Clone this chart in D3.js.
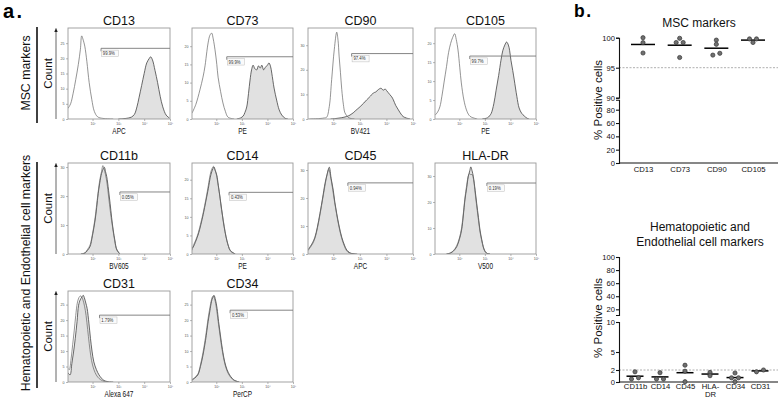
<!DOCTYPE html>
<html><head><meta charset="utf-8">
<script src="https://cdn.jsdelivr.net/npm/d3@7"></script>
<style>
body{margin:0;background:#fff;}
text{font-family:"Liberation Sans",Arial,sans-serif;}
</style></head>
<body>
<script>
// ---------------- DATA ----------------
// Panel a: flow cytometry histograms, points are [log10 fluorescence, count]
const histMarkers = ["CD13","CD73","CD90","CD105","CD11b","CD14","CD45","HLA-DR","CD31","CD34"];
const histChannels = ["APC","PE","BV421","PE","BV605","PE","APC","V500","Alexa 647","PerCP"];
const gateLabels = ["99.9%","99.9%","97.4%","99.7%","0.05%","0.43%","0.94%","0.19%","1.79%","0.53%"];
const gateStart = [2.33, 2.41, 2.69, 2.41, 3.06, 2.5, 2.55, 3.08, 2.27, 2.54];
const gateLevel = [23.3, 17.1, 26.6, 16.6, 21.4, 16.6, 25.4, 27.3, 21.6, 23.2];
const countMax = [30, 25, 37, 24, 31.4, 24.5, 32.5, 35, 29.4, 29.4];
const countTicks = [[0,5,10,15,20,25],[0,5,10,15,20],[0,10,20,30],[0,5,10,15,20],[0,10,20,30],[0,5,10,15,20],[0,10,20,30],[0,10,20,30],[0,5,10,15,20,25],[0,5,10,15,20,25]];
const fluorTicks = [2,3,4,5];
const fluorTickLabels = ["10²","10³","10⁴","10⁵"];

const CD13_iso = [[1.05,3.5],[1.15,5],[1.25,8.5],[1.35,13],[1.45,18],[1.53,23],[1.58,27.4],[1.64,26],[1.7,24],[1.78,19],[1.87,12],[1.97,6.5],[2.07,2.5],[2.2,0.7],[2.4,0.2],[2.8,0]];
const CD13_stain = [[3.0,0],[3.3,0.2],[3.5,0.6],[3.62,1.5],[3.72,4],[3.8,7],[3.9,11],[4.0,15],[4.1,18.5],[4.2,20],[4.25,20.5],[4.32,19.5],[4.42,16],[4.52,12],[4.62,7.5],[4.72,4],[4.85,1.3],[4.98,0.3]];
const CD73_iso = [[1.05,1.6],[1.2,4],[1.36,8],[1.48,11.5],[1.56,14.6],[1.63,18.5],[1.68,20.9],[1.75,23],[1.82,23.6],[1.88,22],[1.95,19],[2.02,15],[2.07,11.5],[2.17,7.5],[2.26,4.4],[2.36,2],[2.46,0.5],[2.7,0]];
const CD73_stain = [[2.8,0],[2.95,0.3],[3.05,0.8],[3.12,1.8],[3.19,3.3],[3.26,7],[3.32,10.7],[3.38,13.5],[3.44,14.8],[3.51,13.8],[3.58,13.5],[3.65,14.6],[3.72,14],[3.78,14.8],[3.85,13.5],[3.92,14.2],[4.0,14.8],[4.06,15.4],[4.12,14.5],[4.17,12.6],[4.26,8.5],[4.36,5.2],[4.46,2.5],[4.56,1.1],[4.69,0.2],[4.8,0]];
const CD90_iso = [[1.1,0],[1.5,0.2],[1.65,0.4],[1.75,0.7],[1.85,5],[1.94,16],[2.04,28.4],[2.13,35.3],[2.18,32],[2.22,25.6],[2.27,19],[2.32,12],[2.38,6],[2.44,2.5],[2.55,0.8],[2.63,0.3],[2.8,0]];
const CD90_stain = [[1.9,0],[2.1,0.2],[2.3,0.5],[2.5,1],[2.63,1.6],[2.75,2.5],[2.85,3.5],[3.01,5],[3.15,6.5],[3.26,7.8],[3.4,9.3],[3.51,10.6],[3.6,11],[3.7,12],[3.8,12.5],[3.88,11.7],[3.95,12.2],[4.01,11.5],[4.07,10.7],[4.13,9.9],[4.2,9],[4.26,7.8],[4.35,5.5],[4.45,3.7],[4.55,2],[4.63,1],[4.75,0.4],[4.89,0]];
const CD105_iso = [[1.05,1],[1.15,1.8],[1.24,3.2],[1.32,6],[1.4,9.5],[1.5,13.8],[1.58,17.5],[1.66,19.9],[1.74,21.5],[1.82,22.5],[1.88,21],[1.95,18.2],[2.02,13.5],[2.08,9.5],[2.18,5],[2.28,2.4],[2.38,1],[2.47,0.5],[2.7,0]];
const CD105_stain = [[2.9,0],[3.1,0.3],[3.18,0.8],[3.25,1.5],[3.35,4],[3.44,7.6],[3.54,11.5],[3.63,15.5],[3.7,18],[3.78,19.5],[3.85,20.3],[3.92,19.5],[3.97,18],[4.02,15.5],[4.09,12.8],[4.15,10.3],[4.25,6],[4.34,2.9],[4.44,1.5],[4.54,0.8],[4.65,0.2],[4.73,0]];
const CD11b_stain = [[1.55,0],[1.71,0.3],[1.8,1.2],[1.9,2.5],[2.0,6.5],[2.1,11.7],[2.16,16],[2.22,20.9],[2.28,24.5],[2.35,27.8],[2.42,29.5],[2.46,29.9],[2.5,28.5],[2.55,26.7],[2.62,22],[2.68,17.5],[2.74,12.5],[2.8,8.3],[2.87,4.5],[2.94,1.4],[3.06,0]];
const CD11b_iso = [[1.55,0],[1.7,0.4],[1.8,1.5],[1.9,3],[2.0,7],[2.1,12.5],[2.16,17],[2.22,21.5],[2.28,25.5],[2.35,28.5],[2.4,30.5],[2.44,29.5],[2.5,27.5],[2.56,24.5],[2.62,20],[2.7,14],[2.78,9],[2.85,5],[2.92,2],[3.06,0]];
const CD14_stain = [[1.05,1.5],[1.1,1.9],[1.2,3.5],[1.3,5.4],[1.4,8],[1.49,10.7],[1.6,14.5],[1.69,17.7],[1.76,20.5],[1.82,22.1],[1.87,23],[1.91,23.4],[1.96,22.5],[2.02,21.2],[2.08,18.5],[2.15,15],[2.21,12],[2.27,8.9],[2.34,6],[2.41,3.7],[2.48,2],[2.54,1],[2.73,0]];
const CD14_iso = [[1.05,1],[1.1,2.2],[1.2,3.8],[1.3,5.8],[1.4,8.5],[1.49,11.2],[1.6,15],[1.69,18.5],[1.76,21.3],[1.82,22.8],[1.89,23.6],[1.94,22.8],[2.0,21.5],[2.06,19],[2.14,15.5],[2.2,12.2],[2.27,9.2],[2.34,6.2],[2.42,3.5],[2.5,1.6],[2.58,0.6],[2.75,0]];
const CD45_stain = [[1.05,1.5],[1.13,2.6],[1.22,4],[1.31,6],[1.4,9.5],[1.5,14.5],[1.6,20],[1.69,25.2],[1.77,28.5],[1.85,31],[1.92,27],[2.0,22.8],[2.06,18.5],[2.13,14.5],[2.22,10],[2.32,6],[2.42,3.2],[2.51,1.4],[2.6,0.6],[2.69,0.2],[2.9,0]];
const CD45_iso = [[1.05,1.2],[1.13,2.3],[1.22,3.6],[1.31,5.6],[1.4,9],[1.5,14],[1.6,19.5],[1.69,24.5],[1.76,28],[1.83,30.2],[1.9,27.5],[1.98,23],[2.05,18.5],[2.13,14],[2.22,9.5],[2.32,5.5],[2.42,2.8],[2.5,1.2],[2.6,0.4],[2.8,0]];
const HLADR_stain = [[1.5,0],[1.64,0.3],[1.78,1.2],[1.9,2.8],[2.0,5.5],[2.09,9.2],[2.16,15],[2.22,20.8],[2.29,25.5],[2.35,29.7],[2.41,32],[2.45,33.5],[2.5,32],[2.55,29.7],[2.62,24.5],[2.68,19.5],[2.75,14],[2.81,9.2],[2.88,5.5],[2.94,2.8],[3.0,1.2],[3.07,0.3],[3.2,0]];
const HLADR_iso = [[1.5,0],[1.65,0.4],[1.78,1.4],[1.9,3.2],[2.0,6],[2.09,10],[2.16,15.8],[2.22,21.5],[2.29,26.5],[2.35,30],[2.4,31],[2.45,30.5],[2.5,30.6],[2.56,28.5],[2.62,23.5],[2.68,18.5],[2.75,13],[2.81,8.5],[2.88,5],[2.94,2.5],[3.0,1],[3.1,0.2],[3.2,0]];
const CD31_stain = [[1.05,3],[1.13,2.3],[1.2,6],[1.27,10],[1.33,14],[1.4,19.5],[1.46,24.8],[1.52,26.5],[1.59,27.5],[1.64,28],[1.68,27.3],[1.74,25.5],[1.79,23.8],[1.86,19],[1.92,14.1],[1.98,10],[2.05,6.5],[2.15,4],[2.25,2.3],[2.35,1.2],[2.44,0.5],[2.6,0.1],[2.8,0]];
const CD31_iso = [[1.05,4.4],[1.1,4],[1.17,7.5],[1.23,12],[1.29,16.5],[1.35,21.5],[1.41,25.5],[1.47,27.2],[1.53,27.8],[1.58,27.5],[1.63,26.5],[1.69,24.5],[1.75,21.5],[1.81,17],[1.87,12.5],[1.93,8.5],[2.0,5.5],[2.1,3],[2.2,1.6],[2.32,0.7],[2.45,0.2],[2.6,0]];
const CD34_stain = [[1.05,0.6],[1.15,1.2],[1.28,2.3],[1.38,5],[1.48,8.7],[1.58,13.5],[1.68,19.5],[1.75,23],[1.81,25.9],[1.86,27.3],[1.91,28],[1.97,26.5],[2.03,23.8],[2.09,19.5],[2.16,15.2],[2.24,10.5],[2.33,6.5],[2.42,4],[2.52,2.3],[2.62,1.2],[2.72,0.5],[2.9,0]];
const CD34_iso = [[1.05,0.8],[1.15,1.4],[1.28,2.6],[1.38,5.5],[1.48,9.5],[1.58,14.5],[1.68,20.5],[1.75,24],[1.81,26.5],[1.86,27.6],[1.9,27.5],[1.96,26],[2.02,23],[2.09,18.5],[2.16,14.2],[2.24,9.8],[2.33,6],[2.42,3.6],[2.52,2],[2.62,1],[2.72,0.4],[2.9,0]];
const stainedCurves = [CD13_stain,CD73_stain,CD90_stain,CD105_stain,CD11b_stain,CD14_stain,CD45_stain,HLADR_stain,CD31_stain,CD34_stain];
const isotypeCurves = [CD13_iso,CD73_iso,CD90_iso,CD105_iso,CD11b_iso,CD14_iso,CD45_iso,HLADR_iso,CD31_iso,CD34_iso];

// Panel b: % positive cells per donor
const mscCats = ["CD13","CD73","CD90","CD105"];
const mscValues = [[100,99.17,97.45],[99.9,99.2,99.2,96.7],[99.6,98.9,97.1,97.4],[99.8,99.2,99.8]];
const hemCats = ["CD11b","CD14","CD45","HLA-DR","CD34","CD31"];
const hemValues = [[1.7,0.5,0.7],[1.55,0.5,0.5],[2.8,1.8,0.05],[1.6,1.05],[1.5,0.7,0.7,0.05],[1.7,2.0]];
const mscThreshold = 95, hemThreshold = 2;
const mscTicksHigh = [90,95,100], mscTicksLow = [0,20,40,60,80];
const hemTicksHigh = [20,40,60,80,100], hemTicksLow = [0,2,5,10];

// ---------------- DRAW ----------------
const W = 778, H = 401;
const svg = d3.select("body").append("svg").attr("width", W).attr("height", H);
svg.append("rect").attr("width", W).attr("height", H).attr("fill", "#fff");

const defs = svg.append("defs");
defs.append("marker").attr("id","arr").attr("viewBox","0 0 10 10").attr("refX",5).attr("refY",5)
  .attr("markerWidth",5).attr("markerHeight",6).attr("orient","auto")
  .append("path").attr("d","M0,1 L10,5 L0,9 Z").attr("fill","#222");

svg.append("text").attr("x",3).attr("y",18).attr("font-size",20).attr("font-weight","bold").attr("letter-spacing",2.5).text("a.");
svg.append("text").attr("x",574).attr("y",17).attr("font-size",17.5).attr("font-weight","bold").attr("letter-spacing",1.5).text("b.");

function groupLabel(text, cy, y0, y1){
  svg.append("text").attr("transform",`translate(30,${cy}) rotate(-90)`).attr("text-anchor","middle")
    .attr("font-size",12.3).attr("fill","#111").text(text);
  svg.append("line").attr("x1",37).attr("x2",37).attr("y1",y0).attr("y2",y1).attr("stroke","#111").attr("stroke-width",1.6);
}
groupLabel("MSC markers", 73, 27, 123);
groupLabel("Hematopoietic and Endothelial cell markers", 273, 162, 388);

const colX = [68,192,308,435], colW = [102,101,105,101];
const rowY = [28,163,291], rowH = 91;

rowY.forEach(t => {
  svg.append("line").attr("x1",56).attr("x2",56).attr("y1",t+rowH).attr("y2",t+2)
    .attr("stroke","#555").attr("stroke-width",0.9).attr("marker-end","url(#arr)");
  svg.append("text").attr("transform",`translate(52,${t+rowH/2}) rotate(-90)`).attr("text-anchor","middle")
    .attr("font-size",11.5).attr("fill","#111").text("Count");
});

histMarkers.forEach((m, i) => {
  const row = i < 4 ? 0 : (i < 8 ? 1 : 2);
  const col = i < 4 ? i : (i < 8 ? i-4 : i-8);
  const x0 = colX[col], w = colW[col], y0 = rowY[row];
  const x = d3.scaleLinear().domain([1.05,5]).range([x0, x0+w]);
  const y = d3.scaleLinear().domain([0, countMax[i]]).range([y0+rowH, y0]);
  const g = svg.append("g");
  const clipId = "clip"+i;
  defs.append("clipPath").attr("id",clipId).append("rect").attr("x",x0).attr("y",y0).attr("width",w).attr("height",rowH);

  const area = d3.area().x(d=>x(d[0])).y0(y(0)).y1(d=>y(Math.max(0,d[1]))).curve(d3.curveCatmullRom.alpha(0.5));
  const line = d3.line().x(d=>x(d[0])).y(d=>y(Math.max(0,d[1]))).curve(d3.curveCatmullRom.alpha(0.5));
  const cg = g.append("g").attr("clip-path",`url(#${clipId})`);
  cg.append("path").datum(stainedCurves[i]).attr("d",area).attr("fill","#e1e1e1");
  cg.append("path").datum(stainedCurves[i]).attr("d",line).attr("fill","none").attr("stroke","#444").attr("stroke-width",0.8);
  cg.append("path").datum(isotypeCurves[i]).attr("d",line).attr("fill","none").attr("stroke","#666").attr("stroke-width",0.7);

  g.append("rect").attr("x",x0).attr("y",y0).attr("width",w).attr("height",rowH)
    .attr("fill","none").attr("stroke","#9a9a9a").attr("stroke-width",0.9);

  const ya = g.append("g").attr("transform",`translate(${x0},0)`)
    .call(d3.axisLeft(y).tickValues(countTicks[i]).tickSize(2).tickPadding(1.5).tickSizeOuter(0));
  const xa = g.append("g").attr("transform",`translate(0,${y0+rowH})`)
    .call(d3.axisBottom(x).tickValues(fluorTicks).tickSize(2).tickPadding(1.5).tickSizeOuter(0)
      .tickFormat((d,k)=>fluorTickLabels[k]));
  [ya,xa].forEach(a => {
    a.select(".domain").remove();
    a.selectAll("line").attr("stroke","#888").attr("stroke-width",0.6);
    a.selectAll("text").attr("font-size",3.6).attr("fill","#555");
  });

  const gx = x(gateStart[i]), gy = y(gateLevel[i]);
  g.append("path").attr("d",`M${gx},${gy+3}V${gy}H${x0+w}`).attr("fill","none").attr("stroke","#777").attr("stroke-width",0.9);
  g.append("rect").attr("x",gx+0.5).attr("y",gy+1.8).attr("width",17).attr("height",6.5)
    .attr("fill","#fafafa").attr("stroke","#bbb").attr("stroke-width",0.5);
  g.append("text").attr("transform",`translate(${gx+1.8},${gy+6.8}) scale(0.85,1)`)
    .attr("font-size",5).attr("fill","#333").text(gateLabels[i]);

  g.append("text").attr("x",x0+w/2).attr("y",y0-3).attr("text-anchor","middle").attr("font-size",12.5).attr("fill","#111").text(m);
  g.append("text").attr("transform",`translate(${x0+w/2},${y0+rowH+14.5}) scale(0.78,1)`).attr("text-anchor","middle")
    .attr("font-size",8.3).attr("fill","#111").text(histChannels[i]);
});

// ---------------- Panel b ----------------
function dotLayout(vals, yScale, thresh, step){
  const idx = vals.map((v,k)=>k).sort((a,b)=>vals[a]-vals[b]);
  const out = new Array(vals.length).fill(0);
  let clusters = [], cur = [idx[0]];
  for (let k=1;k<idx.length;k++){
    if (Math.abs(yScale(vals[idx[k]]) - yScale(vals[idx[k-1]])) < thresh) cur.push(idx[k]);
    else { clusters.push(cur); cur=[idx[k]]; }
  }
  clusters.push(cur);
  clusters.forEach(c => {
    const n = c.length;
    const slots = [];
    if (n % 2) { slots.push(0); for (let s=1; slots.length<n; s++){ slots.push(-s); slots.push(s);} }
    else { for (let s=0.5; slots.length<n; s++){ slots.push(-s); slots.push(s);} }
    c.forEach((k,j)=> out[k] = slots[j]*step);
  });
  return out;
}

function drawYAxis(scale, ticks, ax){
  const a = svg.append("g").attr("transform",`translate(${ax},0)`)
    .call(d3.axisLeft(scale).tickValues(ticks).tickSize(3).tickSizeOuter(3).tickPadding(1));
  a.select(".domain").attr("stroke","#111").attr("stroke-width",1.1).attr("fill","none");
  a.selectAll(".tick line").attr("stroke","#111").attr("stroke-width",1.1);
  a.selectAll(".tick text").attr("font-size",7.6).attr("fill","#111");
  return a;
}

function brokenChart(opt){
  const ax = opt.axisX;
  const yHi = d3.scaleLinear().domain(opt.hiDomain).range(opt.hiRange);
  const yLo = d3.scaleLinear().domain(opt.loDomain).range(opt.loRange);
  const yv = v => v >= opt.split ? yHi(v) : yLo(v);
  const xs = d3.scalePoint().domain(opt.cats).range(opt.catRange);

  opt.title.forEach((t,k)=> svg.append("text").attr("x",opt.titleX).attr("y",opt.titleY+k*15).attr("text-anchor","middle")
    .attr("font-size",12).attr("fill","#111").text(t));
  svg.append("text").attr("transform",`translate(602,${opt.labelY}) rotate(-90)`).attr("text-anchor","middle")
    .attr("font-size",11.5).attr("fill","#111").text("% Positive cells");

  svg.append("line").attr("x1",ax).attr("x2",W).attr("y1",yv(opt.threshold)).attr("y2",yv(opt.threshold))
    .attr("stroke","#999").attr("stroke-width",0.8).attr("stroke-dasharray","2,1.5");

  drawYAxis(yHi, opt.hiTicks, ax);
  drawYAxis(yLo, opt.loTicks, ax);

  const baseY = yLo(opt.loDomain[0]);
  svg.append("line").attr("x1",ax).attr("x2",W).attr("y1",baseY).attr("y2",baseY).attr("stroke","#111").attr("stroke-width",1.1);
  const xa = svg.append("g").attr("transform",`translate(0,${baseY})`).call(d3.axisBottom(xs).tickSize(0).tickPadding(opt.catPad));
  xa.select(".domain").remove();
  xa.selectAll("text").attr("font-size",7.7).attr("fill","#111").each(function(d){
    if (d.includes("-")) {
      const t = d3.select(this); t.text(null);
      const parts = [d.slice(0, d.indexOf("-")+1), d.slice(d.indexOf("-")+1)];
      parts.forEach((p,k)=> t.append("tspan").attr("x",0).attr("dy", k===0 ? "0.71em" : "1.0em").text(p));
      t.attr("dy", null);
    }
  });

  opt.values.forEach((vals, ci) => {
    const cx = xs(opt.cats[ci]);
    const off = dotLayout(vals, yv, 3, 7);
    const mean = d3.mean(vals);
    svg.append("line").attr("x1",cx-opt.meanHalf).attr("x2",cx+opt.meanHalf).attr("y1",yv(mean)).attr("y2",yv(mean))
      .attr("stroke","#000").attr("stroke-width",1.5);
    vals.forEach((v,k)=> svg.append("circle").attr("cx",cx+off[k]).attr("cy",yv(v)).attr("r",2.1)
      .attr("fill","#6f6f6f").attr("stroke","#333").attr("stroke-width",0.7));
  });
}

brokenChart({
  axisX:619, cats:mscCats, values:mscValues, catRange:[643,753],
  hiDomain:[90,100], hiRange:[97.7,37.7], loDomain:[0,95], loRange:[163,99.7], split:90,
  hiTicks:mscTicksHigh, loTicks:mscTicksLow, threshold:mscThreshold,
  title:["MSC markers"], titleX:699, titleY:27, labelY:100, meanHalf:12, catPad:4
});
brokenChart({
  axisX:619, cats:hemCats, values:hemValues, catRange:[635,760],
  hiDomain:[11.3,100], hiRange:[315,257], loDomain:[0,10], loRange:[382,322], split:11.3,
  hiTicks:hemTicksHigh, loTicks:hemTicksLow, threshold:hemThreshold,
  title:["Hematopoietic and","Endothelial cell markers"], titleX:700, titleY:231, labelY:318, meanHalf:8.5, catPad:2
});
</script>
</body></html>
